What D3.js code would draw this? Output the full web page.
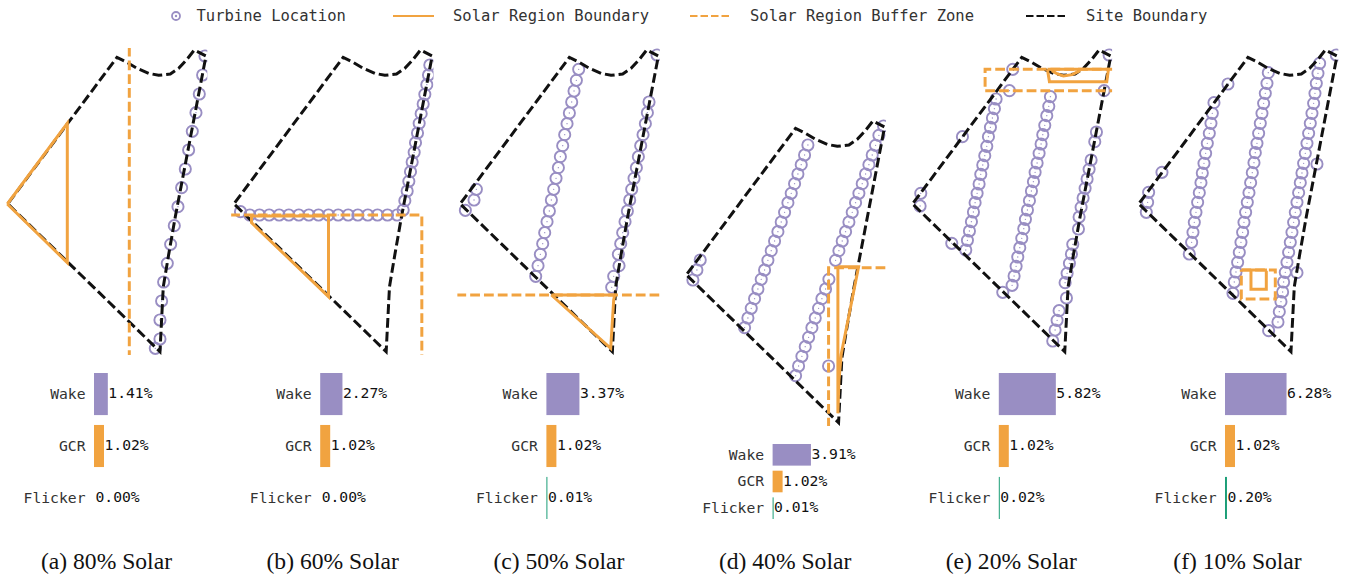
<!DOCTYPE html>
<html>
<head>
<meta charset="utf-8">
<script src="https://cdn.jsdelivr.net/npm/d3@7"></script>
<style>
  html, body { margin: 0; background: #fff; }
  svg { display: block; }
  .mono { font-family: "DejaVu Sans Mono", monospace; }
  .caption { font-family: "Liberation Serif", serif; font-size: 23.6px; fill: #111; }
  .bar-axis .domain { display: none; }
  .bar-axis text { font-family: "DejaVu Sans Mono", monospace; font-size: 14.7px; fill: #333; }
</style>
</head>
<body>
<div id="view"></div>
<script>
// site units: 3 units = 1 screen px, origin is the top left of each map
const captions = ["(a) 80% Solar", "(b) 60% Solar", "(c) 50% Solar", "(d) 40% Solar", "(e) 20% Solar", "(f) 10% Solar"];
const metrics = ["Wake", "GCR", "Flicker"];
const wakeLoss = [1.41, 2.27, 3.37, 3.91, 5.82, 6.28];
const gcrLoss = [1.02, 1.02, 1.02, 1.02, 1.02, 1.02];
const flickerLoss = [0.00, 0.00, 0.01, 0.01, 0.02, 0.20];

const legendLabels = ["Turbine Location", "Solar Region Boundary", "Solar Region Buffer Zone", "Site Boundary"];

const siteBoundary = [[4,458],[329,22],[359,37],[389,55],[424,70],[454,76],[489,72],[514,55],[539,28],[561,0],[596,18],
  [504,500],[483,620],[468,710],[458,905],[4,464]];

const turbinesA = [[444,895],[458,867],[458,810],[463,753],[469,696],[480,640],[490,583],[501,527],[512,470],[523,413],
  [534,357],[544,300],[555,244],[566,188],[576,132],[586,75],[593,18]];
const turbinesB = [[21,485],[49,495],[78,495],[107,495],[137,495],[166,495],[196,495],[226,495],[255,495],[285,495],
  [314,495],[344,495],[373,495],[403,495],[432,495],[462,495],[491,495],
  [509,480],[514,452],[521,423],[526,394],[531,365],[536,336],[542,307],[546,278],[552,249],[557,220],[563,191],
  [569,162],[574,133],[580,104],[585,75],[589,45]];
const turbinesC = [[17,481],[43,450],[50,418],
  [357,58],[350,91],[343,123],[336,156],[329,189],[322,221],[315,254],[309,287],[302,320],[296,353],[289,385],
  [282,418],[275,450],[269,483],[262,515],[255,548],[249,581],[242,613],[235,647],[228,679],
  [592,15],[568,156],[563,188],[557,221],[550,254],[543,287],[536,320],[530,353],[523,385],[516,418],[510,450],
  [503,483],[496,515],[489,548],[483,581],[476,613],[478,647],[462,679],[456,712]];
const turbinesD = [[21,477],[33,447],[43,417],
  [366,72],[356,102],[346,131],[336,159],[326,188],[316,217],[306,245],[296,274],[286,303],[276,332],[266,360],
  [256,389],[246,418],[236,447],[226,475],[216,504],[206,533],[196,562],[186,591],[176,620],
  [593,15],[579,43],[569,73],[559,102],[549,131],[539,159],[529,188],[519,217],[509,245],[499,274],[489,303],
  [479,332],[469,360],[459,389],[449,418],[429,475],[419,504],[408,533],[398,562],[388,591],[378,620],[368,649],
  [358,677],[348,706],[338,735],[329,764],[428,735]];
const turbinesE = [[591,15],[302,58],[292,122],[576,122],[151,260],[26,430],[24,468],[119,580],
  [252,147],[247,176],[241,204],[235,232],[229,260],[224,289],[218,317],[212,345],[206,373],[201,402],[195,430],
  [189,458],[184,486],[178,515],[172,543],[166,571],[161,600],
  [415,140],[410,169],[404,197],[398,226],[392,254],[387,282],[381,310],[375,339],[369,367],[364,395],[358,423],
  [352,452],[346,480],[340,508],[335,536],[329,565],[323,593],[317,621],[312,649],[306,678],[300,706],[272,727],
  [553,246],[548,275],[537,330],[531,358],[525,387],[519,415],[513,444],[507,472],[501,501],[499,537],[482,583],
  [478,612],[472,640],[465,670],[459,698],[463,744],[441,782],[435,811],[429,840],[422,873]];
const turbinesF = [[31,427],[28,457],[24,487],[71,367],[269,102],[536,342],[476,668],[391,842],[153,612],[284,730],[594,15],
  [227,158],[222,190],[218,220],[213,250],[207,280],[202,310],[197,340],[192,369],[188,398],[183,428],[178,457],
  [173,487],[168,517],[164,547],[160,577],
  [390,68],[386,100],[381,130],[376,160],[371,190],[366,220],[361,250],[356,280],[351,308],[347,338],[342,368],
  [337,398],[332,428],[327,457],[322,487],[317,517],[313,547],[308,577],[303,607],[298,637],[293,666],[288,696],
  [544,40],[539,70],[534,100],[530,130],[526,160],[521,190],[516,220],[511,250],[506,280],[501,310],[496,340],
  [491,369],[486,398],[481,428],[476,457],[471,487],[466,517],[461,547],[456,577],[451,607],[446,637],[441,667],
  [436,696],[433,726],[428,755],[423,785],[419,816]];

// each region is a list of paths
const solarA = [[[0,462],[180,220],[180,638],[0,462]]];
const solarB = [[[54,498],[285,498],[285,740],[54,518],[54,498]]];
const solarC = [[[275,735],[465,735],[462,750],[453,895],[275,735]]];
const solarD = [[[456,437],[518,437],[466,700],[459,780],[456,877],[456,437]]];
const solarE = [[[406,58],[589,58],[584,95],[412,95],[406,58]], [[419,62],[436,72],[454,78],[480,74],[504,62]]];
const solarF = [[[338,662],[338,718],[384,718],[384,662]], [[311,660],[386,660]]];

const bufferA = [[[366,-10],[366,920]]];
const bufferB = [[[-10,495],[565,495],[565,920]]];
const bufferC = [[[-10,735],[610,735]]];
const bufferD = [[[428,920],[428,440],[610,440]]];
const bufferE = [[[610,58],[219,58],[219,122],[610,122]]];
const bufferF = [[[309,660],[411,660],[411,747],[309,747],[309,660]]];

const turbines = [turbinesA, turbinesB, turbinesC, turbinesD, turbinesE, turbinesF];
const solars = [solarA, solarB, solarC, solarD, solarE, solarF];
const buffers = [bufferA, bufferB, bufferC, bufferD, bufferE, bufferF];

const PURPLE = "#998ec3", ORANGE = "#f1a340", GREEN = "#1b9e77", BLACK = "#111";
const W = 1346, H = 577;
const PANEL_STEP = 226.2;

const svg = d3.select("#view").append("svg").attr("width", W).attr("height", H);

/* ---------- Legend ---------- */
const legend = svg.append("g");
legend.append("circle").attr("cx", 176).attr("cy", 16).attr("r", 4)
  .attr("fill", "none").attr("stroke", PURPLE).attr("stroke-width", 1.8);
legend.append("circle").attr("cx", 176).attr("cy", 16).attr("r", 1.2).attr("fill", PURPLE);
legend.append("line").attr("x1", 393).attr("x2", 434).attr("y1", 16).attr("y2", 16)
  .attr("stroke", ORANGE).attr("stroke-width", 2.2);
legend.append("line").attr("x1", 690).attr("x2", 729).attr("y1", 16).attr("y2", 16)
  .attr("stroke", ORANGE).attr("stroke-width", 2.2).attr("stroke-dasharray", "7.5 3");
legend.append("line").attr("x1", 1026).attr("x2", 1066).attr("y1", 16).attr("y2", 16)
  .attr("stroke", BLACK).attr("stroke-width", 2.2).attr("stroke-dasharray", "7.5 3");
legend.selectAll("text.leg")
  .data(legendLabels)
  .join("text")
  .attr("class", "leg mono")
  .attr("x", (d, i) => [196.5, 453, 750, 1086][i])
  .attr("y", 20.5)
  .attr("fill", "#333")
  .style("font-size", "15.5px")
  .text(d => d);

/* ---------- Panels ---------- */
captions.forEach((cap, i) => {
  const left = 7.3 + PANEL_STEP * i;
  const top = i === 3 ? 121 : 50;

  const x = d3.scaleLinear().domain([0, 600]).range([left, left + 200]);
  const y = d3.scaleLinear().domain([0, 905]).range([top, top + 905 / 3]);
  const line = d3.line().x(d => x(d[0])).y(d => y(d[1]));

  const g = svg.append("g");
  const clipId = "clip" + i;
  svg.append("clipPath").attr("id", clipId).append("rect")
    .attr("x", x(-7)).attr("y", y(-6))
    .attr("width", x(600) - x(-7)).attr("height", y(915) - y(-6));
  const map = g.append("g").attr("clip-path", `url(#${clipId})`);

  // turbines
  map.selectAll("circle.ring")
    .data(turbines[i])
    .join("circle")
    .attr("class", "ring")
    .attr("cx", d => x(d[0]))
    .attr("cy", d => y(d[1]))
    .attr("r", 5.6)
    .attr("fill", "none")
    .attr("stroke", PURPLE)
    .attr("stroke-width", 1.9);
  map.selectAll("circle.hub")
    .data(turbines[i])
    .join("circle")
    .attr("class", "hub")
    .attr("cx", d => x(d[0]))
    .attr("cy", d => y(d[1]))
    .attr("r", 0.7)
    .attr("fill", PURPLE);

  // site boundary
  map.append("path")
    .attr("d", line(siteBoundary))
    .attr("fill", "none")
    .attr("stroke", BLACK)
    .attr("stroke-width", 3)
    .attr("stroke-dasharray", "9.8 4");

  // buffer and solar region
  map.selectAll("path.buffer")
    .data(buffers[i])
    .join("path")
    .attr("class", "buffer")
    .attr("d", line)
    .attr("fill", "none")
    .attr("stroke", ORANGE)
    .attr("stroke-width", 3)
    .attr("stroke-dasharray", "9.8 4");
  map.selectAll("path.solar")
    .data(solars[i])
    .join("path")
    .attr("class", "solar")
    .attr("d", line)
    .attr("fill", "none")
    .attr("stroke", ORANGE)
    .attr("stroke-width", 3);

  // loss bars
  const barLeft = 94 + PANEL_STEP * i;
  const barTop = i === 3 ? 444 : 373;
  const barX = d3.scaleLinear().domain([0, 1]).range([barLeft, barLeft + 9.8]);
  const barY = d3.scaleBand().domain(metrics).range([barTop, 519]).paddingInner(0.19);
  const values = [wakeLoss[i], gcrLoss[i], flickerLoss[i]];
  const colors = [PURPLE, ORANGE, GREEN];

  g.selectAll("rect.loss")
    .data(metrics)
    .join("rect")
    .attr("class", "loss")
    .attr("x", barLeft)
    .attr("y", d => barY(d))
    .attr("width", (d, k) => Math.max(values[k] > 0 ? 1 : 0, barX(values[k]) - barLeft))
    .attr("height", barY.bandwidth())
    .attr("fill", (d, k) => colors[k]);

  g.selectAll("text.val")
    .data(metrics)
    .join("text")
    .attr("class", "val mono")
    .attr("x", (d, k) => Math.max(barLeft + 1, barX(values[k])) + 0.5)
    .attr("y", d => barY(d) + barY.bandwidth() / 2 + 4)
    .attr("fill", "#111")
    .style("font-size", "14.7px")
    .text((d, k) => values[k].toFixed(2) + "%");

  g.append("g")
    .attr("class", "bar-axis")
    .attr("transform", `translate(${barLeft},0)`)
    .call(d3.axisLeft(barY).tickSize(0).tickPadding(8.5));

  g.append("text")
    .attr("class", "caption")
    .attr("x", 106.5 + PANEL_STEP * i)
    .attr("y", 569)
    .attr("text-anchor", "middle")
    .text(cap);
});
</script>
</body>
</html>
